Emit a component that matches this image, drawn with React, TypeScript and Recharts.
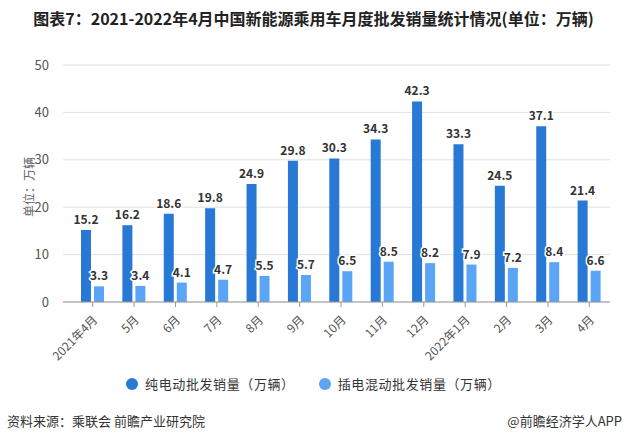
import React from "react";
import { BarChart, Bar, XAxis, YAxis, CartesianGrid, LabelList } from "recharts";

const categories = ["2021年4月", "5月", "6月", "7月", "8月", "9月", "10月", "11月", "12月", "2022年1月", "2月", "3月", "4月"];
const bevValues = [15.2, 16.2, 18.6, 19.8, 24.9, 29.8, 30.3, 34.3, 42.3, 33.3, 24.5, 37.1, 21.4];
const phevValues = [3.3, 3.4, 4.1, 4.7, 5.5, 5.7, 6.5, 8.5, 8.2, 7.9, 7.2, 8.4, 6.6];
const yTicks = [0, 10, 20, 30, 40, 50];
const seriesNames = ["纯电动批发销量（万辆）", "插电混动批发销量（万辆）"];

const DARK = "#2878D6";
const LIGHT = "#5AA5F5";
const FONT = "'Noto Sans CJK SC', 'Noto Sans', sans-serif";

const data = categories.map((c, i) => ({ name: c, bev: bevValues[i], phev: phevValues[i] }));

const XTick = (props: any) => {
  const { x, y, payload } = props;
  return (
    <g transform={`translate(${x},${y + 6})`}>
      <text x={0} y={0} dy={8} textAnchor="end" transform="rotate(-45)" fill="#555" fontSize={12} fontFamily={FONT}>
        {payload.value}
      </text>
    </g>
  );
};

export default function App() {
  return (
    <div style={{ position: "absolute", left: 0, top: 0, width: 627, height: 441, background: "#fff", fontFamily: FONT }}>
      <div style={{ position: "absolute", left: 0, top: 7, width: 627, textAlign: "center", fontSize: 16, fontWeight: "bold", color: "#222", lineHeight: "22px" }}>
        图表7：2021-2022年4月中国新能源乘用车月度批发销量统计情况(单位：万辆)
      </div>
      <div style={{ position: "absolute", left: 28, top: 187, transform: "translate(-50%,-50%) rotate(-90deg)", whiteSpace: "nowrap", fontSize: 12, color: "#666" }}>
        单位：万辆
      </div>
      <BarChart width={627} height={441} data={data} margin={{ top: 65, right: 17, left: 0, bottom: 0 }} barGap={3} barSize={10}>
        <CartesianGrid vertical={false} stroke="#e0e0e0" />
        <XAxis
          dataKey="name"
          interval={0}
          height={139}
          padding={{ left: 9, right: 0 }}
          tick={<XTick />}
          tickLine={{ stroke: "#999" }}
          tickSize={5}
          axisLine={{ stroke: "#999" }}
        />
        <YAxis
          width={63}
          domain={[0, 50]}
          ticks={yTicks}
          axisLine={false}
          tickLine={false}
          tick={{ fill: "#555", fontSize: 13, fontFamily: FONT }}
          tickMargin={8}
        />
        <Bar dataKey="bev" name={seriesNames[0]} fill={DARK} isAnimationActive={false}>
          <LabelList dataKey="bev" position="top" offset={6} fill="#333" fontSize={12} fontWeight="bold" fontFamily={FONT} stroke="#fff" strokeWidth={3} style={{ paintOrder: "stroke" }} />
        </Bar>
        <Bar dataKey="phev" name={seriesNames[1]} fill={LIGHT} isAnimationActive={false}>
          <LabelList dataKey="phev" position="top" offset={6} fill="#333" fontSize={12} fontWeight="bold" fontFamily={FONT} stroke="#fff" strokeWidth={3} style={{ paintOrder: "stroke" }} />
        </Bar>
      </BarChart>
      <div style={{ position: "absolute", left: 0, top: 374, width: 627, display: "flex", justifyContent: "center", alignItems: "center", fontSize: 13, color: "#333", letterSpacing: "0.6px" }}>
        {seriesNames.map((n, i) => (
          <div key={n} style={{ display: "flex", alignItems: "center", marginLeft: i === 0 ? 0 : 24 }}>
            <span style={{ display: "inline-block", width: 12, height: 12, borderRadius: 6, background: i === 0 ? DARK : LIGHT, marginRight: 7 }} />
            <span>{n}</span>
          </div>
        ))}
      </div>
      <div style={{ position: "absolute", left: 7, top: 411, fontSize: 13, color: "#333" }}>资料来源：乘联会 前瞻产业研究院</div>
      <div style={{ position: "absolute", right: 5, top: 411, fontSize: 13, color: "#333" }}>@前瞻经济学人APP</div>
    </div>
  );
}
